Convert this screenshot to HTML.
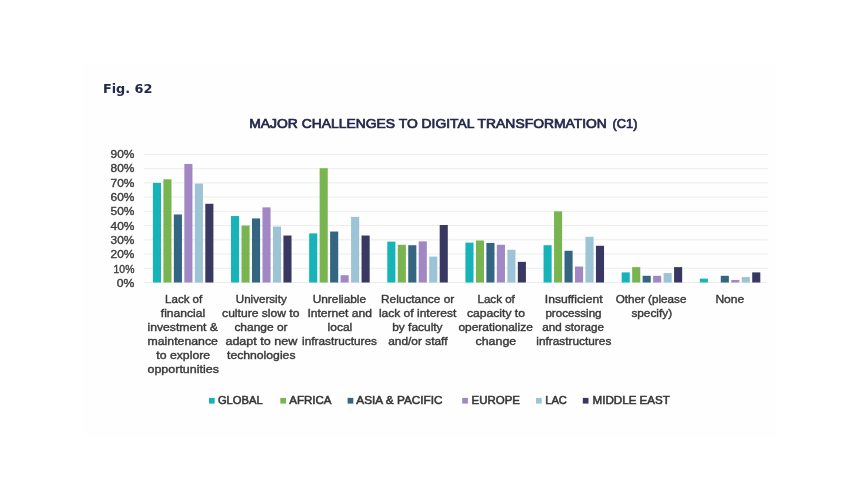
<!DOCTYPE html>
<html lang="en"><head><meta charset="utf-8"><title>Fig. 62 - Major challenges to digital transformation (C1)</title>
<style>
html,body{margin:0;padding:0;background:#fff;}
body{width:860px;height:484px;overflow:hidden;position:relative;font-family:"Liberation Sans",sans-serif;}
svg{position:absolute;left:0;top:0;display:block;}
.fig{font-family:"DejaVu Sans","Liberation Sans",sans-serif;font-weight:bold;font-size:13px;fill:#24284a;}
.title{font-family:"Liberation Sans",sans-serif;font-size:13px;fill:#24274b;stroke:#24274b;stroke-width:.7px;}
.yl{font-family:"Liberation Sans",sans-serif;font-size:10px;fill:#3c3c3c;stroke:#3c3c3c;stroke-width:.35px;}
.cl{font-family:"Liberation Sans",sans-serif;font-size:11.5px;fill:#383838;stroke:#383838;stroke-width:.4px;}
.lg{font-family:"Liberation Sans",sans-serif;font-size:11.3px;fill:#363636;stroke:#363636;stroke-width:.55px;}
</style></head><body>
<svg width="860" height="484" viewBox="0 0 860 484">
<rect x="0" y="0" width="860" height="484" fill="#ffffff"/>
<rect x="84" y="64" width="692" height="372" fill="#fefefe"/>
<text class="fig" x="102.9" y="92.7" textLength="49.6" lengthAdjust="spacingAndGlyphs">Fig. 62</text>
<text class="title" x="249.3" y="128.3"><tspan textLength="357.6" lengthAdjust="spacingAndGlyphs">MAJOR CHALLENGES TO DIGITAL TRANSFORMATION</tspan><tspan x="612.6" textLength="24.8" lengthAdjust="spacingAndGlyphs">(C1)</tspan></text>
<g stroke="#ececec" stroke-width="1">
<line x1="144.1" y1="282.50" x2="767.8" y2="282.50"/>
<line x1="144.1" y1="268.27" x2="767.8" y2="268.27"/>
<line x1="144.1" y1="254.03" x2="767.8" y2="254.03"/>
<line x1="144.1" y1="239.80" x2="767.8" y2="239.80"/>
<line x1="144.1" y1="225.57" x2="767.8" y2="225.57"/>
<line x1="144.1" y1="211.33" x2="767.8" y2="211.33"/>
<line x1="144.1" y1="197.10" x2="767.8" y2="197.10"/>
<line x1="144.1" y1="182.87" x2="767.8" y2="182.87"/>
<line x1="144.1" y1="168.63" x2="767.8" y2="168.63"/>
<line x1="144.1" y1="154.40" x2="767.8" y2="154.40"/>
</g>
<text class="yl" x="116.8" y="287.18" textLength="17.6" lengthAdjust="spacingAndGlyphs">0%</text>
<text class="yl" x="113.6" y="272.83" textLength="20.8" lengthAdjust="spacingAndGlyphs">10%</text>
<text class="yl" x="110.6" y="258.47" textLength="23.8" lengthAdjust="spacingAndGlyphs">20%</text>
<text class="yl" x="110.6" y="244.12" textLength="23.8" lengthAdjust="spacingAndGlyphs">30%</text>
<text class="yl" x="110.6" y="229.77" textLength="23.8" lengthAdjust="spacingAndGlyphs">40%</text>
<text class="yl" x="110.6" y="215.41" textLength="23.8" lengthAdjust="spacingAndGlyphs">50%</text>
<text class="yl" x="110.6" y="201.06" textLength="23.8" lengthAdjust="spacingAndGlyphs">60%</text>
<text class="yl" x="110.6" y="186.71" textLength="23.8" lengthAdjust="spacingAndGlyphs">70%</text>
<text class="yl" x="110.6" y="172.35" textLength="23.8" lengthAdjust="spacingAndGlyphs">80%</text>
<text class="yl" x="110.6" y="158.00" textLength="23.8" lengthAdjust="spacingAndGlyphs">90%</text>
<rect x="152.90" y="182.87" width="8.10" height="99.63" fill="#16b4b9"/>
<rect x="163.38" y="179.31" width="8.10" height="103.19" fill="#78b550"/>
<rect x="173.86" y="214.46" width="8.10" height="68.04" fill="#346682"/>
<rect x="184.34" y="163.94" width="8.10" height="118.56" fill="#a187c3"/>
<rect x="194.82" y="183.58" width="8.10" height="98.92" fill="#9cc3d6"/>
<rect x="205.30" y="203.79" width="8.10" height="78.71" fill="#393863"/>
<rect x="231.03" y="216.03" width="8.10" height="66.47" fill="#16b4b9"/>
<rect x="241.51" y="225.57" width="8.10" height="56.93" fill="#78b550"/>
<rect x="251.99" y="218.45" width="8.10" height="64.05" fill="#346682"/>
<rect x="262.47" y="207.35" width="8.10" height="75.15" fill="#a187c3"/>
<rect x="272.95" y="226.56" width="8.10" height="55.94" fill="#9cc3d6"/>
<rect x="283.43" y="235.53" width="8.10" height="46.97" fill="#393863"/>
<rect x="309.16" y="233.40" width="8.10" height="49.10" fill="#16b4b9"/>
<rect x="319.64" y="168.21" width="8.10" height="114.29" fill="#78b550"/>
<rect x="330.12" y="231.54" width="8.10" height="50.96" fill="#346682"/>
<rect x="340.60" y="275.24" width="8.10" height="7.26" fill="#a187c3"/>
<rect x="351.08" y="216.88" width="8.10" height="65.62" fill="#9cc3d6"/>
<rect x="361.56" y="235.53" width="8.10" height="46.97" fill="#393863"/>
<rect x="387.29" y="241.65" width="8.10" height="40.85" fill="#16b4b9"/>
<rect x="397.77" y="244.78" width="8.10" height="37.72" fill="#78b550"/>
<rect x="408.25" y="245.21" width="8.10" height="37.29" fill="#346682"/>
<rect x="418.73" y="241.37" width="8.10" height="41.13" fill="#a187c3"/>
<rect x="429.21" y="256.60" width="8.10" height="25.90" fill="#9cc3d6"/>
<rect x="439.69" y="225.00" width="8.10" height="57.50" fill="#393863"/>
<rect x="465.42" y="242.65" width="8.10" height="39.85" fill="#16b4b9"/>
<rect x="475.90" y="240.51" width="8.10" height="41.99" fill="#78b550"/>
<rect x="486.38" y="242.93" width="8.10" height="39.57" fill="#346682"/>
<rect x="496.86" y="244.78" width="8.10" height="37.72" fill="#a187c3"/>
<rect x="507.34" y="249.76" width="8.10" height="32.74" fill="#9cc3d6"/>
<rect x="517.82" y="261.86" width="8.10" height="20.64" fill="#393863"/>
<rect x="543.55" y="245.21" width="8.10" height="37.29" fill="#16b4b9"/>
<rect x="554.03" y="211.33" width="8.10" height="71.17" fill="#78b550"/>
<rect x="564.51" y="250.76" width="8.10" height="31.74" fill="#346682"/>
<rect x="574.99" y="266.56" width="8.10" height="15.94" fill="#a187c3"/>
<rect x="585.47" y="236.81" width="8.10" height="45.69" fill="#9cc3d6"/>
<rect x="595.95" y="245.78" width="8.10" height="36.72" fill="#393863"/>
<rect x="621.68" y="272.39" width="8.10" height="10.11" fill="#16b4b9"/>
<rect x="632.16" y="267.13" width="8.10" height="15.37" fill="#78b550"/>
<rect x="642.64" y="275.81" width="8.10" height="6.69" fill="#346682"/>
<rect x="653.12" y="275.81" width="8.10" height="6.69" fill="#a187c3"/>
<rect x="663.60" y="273.11" width="8.10" height="9.39" fill="#9cc3d6"/>
<rect x="674.08" y="267.13" width="8.10" height="15.37" fill="#393863"/>
<rect x="699.81" y="278.66" width="8.10" height="3.84" fill="#16b4b9"/>
<rect x="720.77" y="275.81" width="8.10" height="6.69" fill="#346682"/>
<rect x="731.25" y="279.94" width="8.10" height="2.56" fill="#a187c3"/>
<rect x="741.73" y="277.09" width="8.10" height="5.41" fill="#9cc3d6"/>
<rect x="752.21" y="272.39" width="8.10" height="10.11" fill="#393863"/>
<text class="cl" x="165.1" y="303.1" textLength="37.1" lengthAdjust="spacingAndGlyphs">Lack of</text>
<text class="cl" x="160.8" y="317.0" textLength="44.4" lengthAdjust="spacingAndGlyphs">financial</text>
<text class="cl" x="147.5" y="330.9" textLength="70.4" lengthAdjust="spacingAndGlyphs">investment &amp;</text>
<text class="cl" x="147.5" y="344.8" textLength="70.4" lengthAdjust="spacingAndGlyphs">maintenance</text>
<text class="cl" x="156.3" y="358.7" textLength="53.8" lengthAdjust="spacingAndGlyphs">to explore</text>
<text class="cl" x="147.5" y="372.6" textLength="71.4" lengthAdjust="spacingAndGlyphs">opportunities</text>
<text class="cl" x="235.8" y="303.1" textLength="50.9" lengthAdjust="spacingAndGlyphs">University</text>
<text class="cl" x="222.1" y="317.0" textLength="77.3" lengthAdjust="spacingAndGlyphs">culture slow to</text>
<text class="cl" x="234.4" y="330.9" textLength="53.2" lengthAdjust="spacingAndGlyphs">change or</text>
<text class="cl" x="225.4" y="344.8" textLength="72.0" lengthAdjust="spacingAndGlyphs">adapt to new</text>
<text class="cl" x="227.0" y="358.7" textLength="68.5" lengthAdjust="spacingAndGlyphs">technologies</text>
<text class="cl" x="312.7" y="303.1" textLength="53.4" lengthAdjust="spacingAndGlyphs">Unreliable</text>
<text class="cl" x="307.4" y="317.0" textLength="64.6" lengthAdjust="spacingAndGlyphs">Internet and</text>
<text class="cl" x="327.6" y="330.9" textLength="24.7" lengthAdjust="spacingAndGlyphs">local</text>
<text class="cl" x="302.1" y="344.8" textLength="74.8" lengthAdjust="spacingAndGlyphs">infrastructures</text>
<text class="cl" x="381.0" y="303.1" textLength="73.2" lengthAdjust="spacingAndGlyphs">Reluctance or</text>
<text class="cl" x="378.9" y="317.0" textLength="77.5" lengthAdjust="spacingAndGlyphs">lack of interest</text>
<text class="cl" x="392.2" y="330.9" textLength="50.4" lengthAdjust="spacingAndGlyphs">by faculty</text>
<text class="cl" x="388.2" y="344.8" textLength="59.3" lengthAdjust="spacingAndGlyphs">and/or staff</text>
<text class="cl" x="477.5" y="303.1" textLength="37.3" lengthAdjust="spacingAndGlyphs">Lack of</text>
<text class="cl" x="466.9" y="317.0" textLength="58.1" lengthAdjust="spacingAndGlyphs">capacity to</text>
<text class="cl" x="458.4" y="330.9" textLength="74.4" lengthAdjust="spacingAndGlyphs">operationalize</text>
<text class="cl" x="475.5" y="344.8" textLength="40.7" lengthAdjust="spacingAndGlyphs">change</text>
<text class="cl" x="544.8" y="303.1" textLength="57.7" lengthAdjust="spacingAndGlyphs">Insufficient</text>
<text class="cl" x="545.4" y="317.0" textLength="56.2" lengthAdjust="spacingAndGlyphs">processing</text>
<text class="cl" x="542.3" y="330.9" textLength="61.6" lengthAdjust="spacingAndGlyphs">and storage</text>
<text class="cl" x="536.3" y="344.8" textLength="75.0" lengthAdjust="spacingAndGlyphs">infrastructures</text>
<text class="cl" x="615.7" y="303.1" textLength="70.7" lengthAdjust="spacingAndGlyphs">Other (please</text>
<text class="cl" x="631.4" y="317.0" textLength="40.7" lengthAdjust="spacingAndGlyphs">specify)</text>
<text class="cl" x="715.4" y="303.1" textLength="28.9" lengthAdjust="spacingAndGlyphs">None</text>
<rect x="209.0" y="397.9" width="5.7" height="5.7" fill="#16b4b9"/>
<text class="lg" x="217.9" y="404.3" textLength="44.8" lengthAdjust="spacingAndGlyphs">GLOBAL</text>
<rect x="280.3" y="397.9" width="5.7" height="5.7" fill="#78b550"/>
<text class="lg" x="289.2" y="404.3" textLength="42.3" lengthAdjust="spacingAndGlyphs">AFRICA</text>
<rect x="347.6" y="397.9" width="5.7" height="5.7" fill="#346682"/>
<text class="lg" x="356.3" y="404.3" textLength="86.3" lengthAdjust="spacingAndGlyphs">ASIA &amp; PACIFIC</text>
<rect x="462.2" y="397.9" width="5.7" height="5.7" fill="#a187c3"/>
<text class="lg" x="471.5" y="404.3" textLength="48.5" lengthAdjust="spacingAndGlyphs">EUROPE</text>
<rect x="536.0" y="397.9" width="5.7" height="5.7" fill="#9cc3d6"/>
<text class="lg" x="545.2" y="404.3" textLength="21.7" lengthAdjust="spacingAndGlyphs">LAC</text>
<rect x="582.8" y="397.9" width="5.7" height="5.7" fill="#393863"/>
<text class="lg" x="592.6" y="404.3" textLength="77.3" lengthAdjust="spacingAndGlyphs">MIDDLE EAST</text>
</svg>
</body></html>
